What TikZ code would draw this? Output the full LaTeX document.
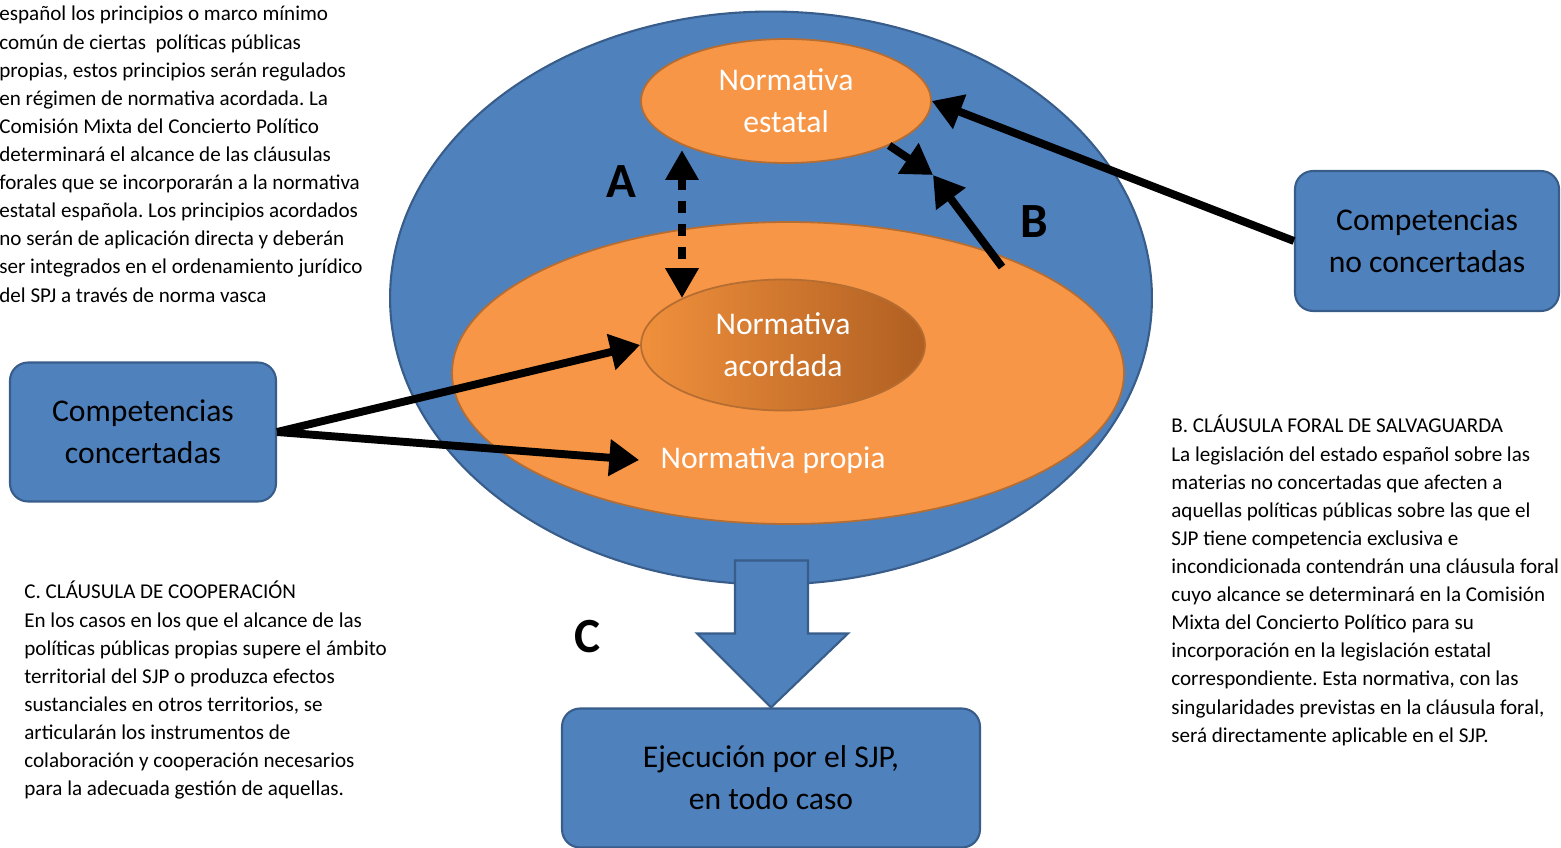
\documentclass[tikz,border=0pt]{standalone}
\usepackage{fontspec}
\setmainfont{Carlito}
\usepackage{tikz}
\usetikzlibrary{
    calc,positioning,arrows.meta,shapes.geometric
}
\frenchspacing
\definecolor{boxblue}{HTML}{4F81BD}
\definecolor{boxline}{HTML}{385D8A}
\definecolor{ovalorange}{HTML}{F79646}
\definecolor{ovalline}{HTML}{B66D31}
\definecolor{deeporange}{HTML}{B05F22}
\definecolor{lightorange}{HTML}{F0903C}
\tikzset{
    block/.style={rectangle, rounded corners=0.36cm, draw=boxline, fill=boxblue, line width=1.2pt, minimum width=5.32cm, minimum height=2.78cm, align=center, font=\fontsize{18}{24}\selectfont},
    region/.style={ellipse, line width=1.2pt},
    oval/.style={ellipse, draw=ovalline, fill=ovalorange, line width=1pt, inner sep=0pt, text=white, align=center, font=\fontsize{18}{24}\selectfont},
    line/.style={-{Triangle[length=17pt,width=20pt]}, line width=4.5pt},
    twoway/.style={{Triangle[length=17pt,width=18pt]}-{Triangle[length=17pt,width=18pt]}, line width=4.5pt, dash pattern=on 7pt off 6pt},
    bigarrow/.style={draw=boxline, fill=boxblue, line width=1.2pt},
    tag/.style={font=\fontsize{28}{30}\selectfont\bfseries},
    note/.style={anchor=north west, inner sep=0pt, align=left, font=\fontsize{12}{16}\selectfont},
}

\begin{document}
\begin{tikzpicture}
        [x=0.02cm, y=-0.02cm]

        \useasboundingbox (0,0) rectangle (1561,848);
        \clip (0,0) rectangle (1561,848);

        % regions
        \node[region, draw=boxline, fill=boxblue, minimum width=15.24cm, minimum height=11.46cm] (bigell) at (771,298) {};
        \node[region, draw=ovalline, fill=ovalorange, line width=1pt, minimum width=13.44cm, minimum height=6.04cm] (propell) at (788,373) {};

        \node[oval, minimum width=5.8cm, minimum height=2.48cm] (estatal) at (786,101) {Normativa\\estatal};
        \node[oval, left color=lightorange, right color=deeporange, minimum width=5.68cm, minimum height=2.62cm] (acordada) at (783,345) {Normativa\\acordada};
        \node[text=white, inner sep=12pt, font=\fontsize{18}{24}\selectfont] (propia) at (773,460) {Normativa propia};

        % boxes
        \node[block] (concert) at (143,432) {Competencias\\concertadas};
        \node[block, minimum width=5.28cm, minimum height=2.8cm] (noconcert) at (1427,241) {Competencias\\no concertadas};
        \node[block, minimum width=8.36cm] (exec) at (771,778) {Ejecución por el SJP,\\en todo caso};

        \draw[bigarrow] (exec.north) -- ++(-74,-74) -- ++(38,0) -- ++(0,-73) -- ++(73,0) -- ++(0,73) -- ++(40,0) -- cycle;

        % arrows
        \draw[line] (concert.east) -- (acordada.west);
        \draw[line] (concert.east) -- (propia.west);
        \draw[line] (noconcert.west) -- (estatal.east);

        \coordinate (bmeet) at (933,175);
        \coordinate (bfoot) at (1002,267);
        \draw[line] (estatal.south east) -- (bmeet);
        \draw[line] (bfoot) -- (bmeet);

        \coordinate (atop) at ($(acordada.north west)+(0,-148)$);
        \draw[twoway] (atop) -- (acordada.north west);

        \node[tag] (la) at (621,182) {A};
        \node[tag] (lb) at (1034,222) {B};
        \node[tag] (lc) at (588,637) {C};

        % texts
        \node[note] (noteA) at (-1,6) {español los principios o marco mínimo\\
            común de ciertas\ \ políticas públicas\\
            propias, estos principios serán regulados\\
            en régimen de normativa acordada. La\\
            Comisión Mixta del Concierto Político\\
            determinará el alcance de las cláusulas\\
            forales que se incorporarán a la normativa\\
            estatal española. Los principios acordados\\
            no serán de aplicación directa y deberán\\
            ser integrados en el ordenamiento jurídico\\
            del SPJ a través de norma vasca};

        \node[note] (noteB) at (1171,415) {B. CLÁUSULA FORAL DE SALVAGUARDA\\
            La legislación del estado español sobre las\\
            materias no concertadas que afecten a\\
            aquellas políticas públicas sobre las que el\\
            SJP tiene competencia exclusiva e\\
            incondicionada contendrán una cláusula foral\\
            cuyo alcance se determinará en la Comisión\\
            Mixta del Concierto Político para su\\
            incorporación en la legislación estatal\\
            correspondiente. Esta normativa, con las\\
            singularidades previstas en la cláusula foral,\\
            será directamente aplicable en el SJP.};

        \node[note] (noteC) at (24,581) {C. CLÁUSULA DE COOPERACIÓN\\
            En los casos en los que el alcance de las\\
            políticas públicas propias supere el ámbito\\
            territorial del SJP o produzca efectos\\
            sustanciales en otros territorios, se\\
            articularán los instrumentos de\\
            colaboración y cooperación necesarios\\
            para la adecuada gestión de aquellas.};

    \end{tikzpicture}
\end{document}
